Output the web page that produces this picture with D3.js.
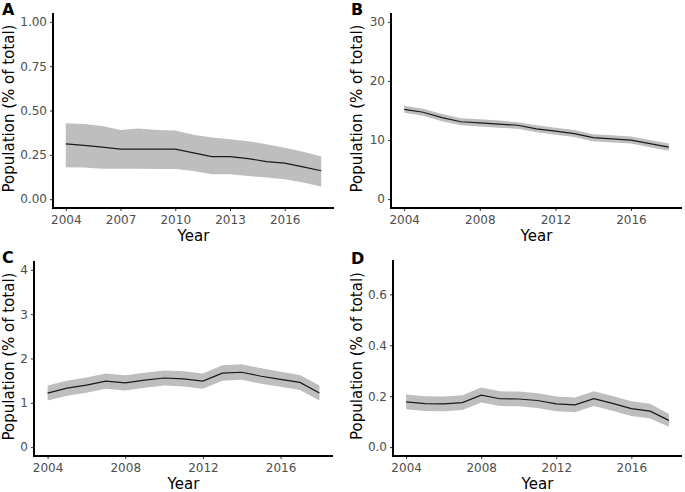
<!DOCTYPE html>
<html>
<head>
<meta charset="utf-8">
<script src="https://cdn.jsdelivr.net/npm/d3@7"></script>
<style>
  html, body { margin: 0; padding: 0; background: #fff; }
  svg { display: block; font-family: "DejaVu Sans", sans-serif; }
</style>
</head>
<body>
<svg id="chart" width="685" height="492"></svg>
<script>
const years = [2004,2005,2006,2007,2008,2009,2010,2011,2012,2013,2014,2015,2016,2017,2018];

const aMean = [0.312,0.303,0.293,0.282,0.282,0.282,0.282,0.261,0.240,0.240,0.229,0.212,0.203,0.182,0.160];
const aHigh = [0.428,0.424,0.413,0.390,0.398,0.390,0.387,0.363,0.348,0.338,0.327,0.310,0.290,0.268,0.240];
const aLow  = [0.180,0.178,0.172,0.172,0.172,0.170,0.170,0.159,0.140,0.140,0.130,0.122,0.112,0.094,0.071];

const bMean = [15.2,14.7,13.8,13.1,12.9,12.7,12.5,11.9,11.5,11.1,10.4,10.2,10.0,9.4,8.8];
const bHigh = [15.8,15.3,14.4,13.7,13.5,13.3,13.0,12.5,12.1,11.7,11.0,10.8,10.6,10.0,9.4];
const bLow  = [14.6,14.1,13.2,12.5,12.3,12.1,11.9,11.3,10.9,10.5,9.8,9.6,9.4,8.8,8.2];

const cMean = [1.22,1.33,1.40,1.49,1.45,1.51,1.56,1.54,1.49,1.67,1.69,1.60,1.53,1.46,1.22];
const cHigh = [1.39,1.50,1.57,1.66,1.62,1.68,1.73,1.71,1.66,1.85,1.87,1.78,1.70,1.63,1.39];
const cLow  = [1.05,1.16,1.23,1.32,1.28,1.34,1.39,1.37,1.32,1.50,1.52,1.43,1.36,1.29,1.05];

const dMean = [0.178,0.171,0.170,0.175,0.204,0.190,0.189,0.183,0.170,0.166,0.190,0.172,0.151,0.141,0.105];
const dHigh = [0.207,0.200,0.199,0.204,0.234,0.219,0.218,0.212,0.199,0.195,0.219,0.201,0.180,0.170,0.130];
const dLow  = [0.149,0.142,0.141,0.146,0.175,0.161,0.160,0.154,0.141,0.137,0.161,0.143,0.122,0.112,0.080];

const aXTicks = [2004,2007,2010,2013,2016];
const bXTicks = [2004,2008,2012,2016];
const aYTicks = [0,0.25,0.5,0.75,1];
const bYTicks = [0,10,20,30];
const cYTicks = [0,1,2,3,4];
const dYTicks = [0,0.2,0.4,0.6];

const panelLabels = ["A","B","C","D"];
const xTitle = "Year";
const yTitle = "Population (% of total)";

const svg = d3.select("#chart");

const panels = [
  {mean:aMean, hi:aHigh, lo:aLow, ymax:1, yTicks:aYTicks, fmt:d3.format(".2f"), xTicks:aXTicks,
   left:53, right:334, top:13, bottom:208, titleX:13.5, labX:2, labY:15},
  {mean:bMean, hi:bHigh, lo:bLow, ymax:30, yTicks:bYTicks, fmt:d3.format("d"), xTicks:bXTicks,
   left:391, right:682, top:13, bottom:208, titleX:362, labX:351, labY:15},
  {mean:cMean, hi:cHigh, lo:cLow, ymax:4, yTicks:cYTicks, fmt:d3.format("d"), xTicks:bXTicks,
   left:34, right:333, top:261, bottom:456, titleX:13.5, labX:2, labY:263},
  {mean:dMean, hi:dHigh, lo:dLow, ymax:0.7, yTicks:dYTicks, fmt:d3.format(".1f"), xTicks:bXTicks,
   left:393, right:682, top:260, bottom:456, titleX:362, labX:351, labY:264}
];

panels.forEach((p, i) => {
  const xPad = (years[years.length-1] - years[0]) * 0.05;
  const x = d3.scaleLinear()
    .domain([years[0] - xPad, years[years.length-1] + xPad])
    .range([p.left, p.right]);
  const y = d3.scaleLinear()
    .domain([-p.ymax * 0.05, p.ymax * 1.05])
    .range([p.bottom, p.top]);

  const g = svg.append("g");
  const rows = years.map((yr, k) => ({yr, m: p.mean[k], hi: p.hi[k], lo: p.lo[k]}));

  g.append("path")
    .datum(rows)
    .attr("fill", "#bebebe")
    .attr("d", d3.area().x(d => x(d.yr)).y0(d => y(d.lo)).y1(d => y(d.hi)));

  g.append("path")
    .datum(rows)
    .attr("fill", "none")
    .attr("stroke", "#1a1a1a")
    .attr("stroke-width", 1.2)
    .attr("d", d3.line().x(d => x(d.yr)).y(d => y(d.m)));

  // y axis
  const yAxis = g.append("g")
    .attr("transform", `translate(${p.left},0)`)
    .call(d3.axisLeft(y).tickValues(p.yTicks).tickFormat(p.fmt).tickSize(3).tickPadding(3));
  yAxis.select(".domain").remove();
  yAxis.selectAll(".tick line").attr("stroke", "#333").attr("stroke-width", 1);
  yAxis.selectAll(".tick text").attr("fill", "#4d4d4d").style("font-size", "12px")
    .style("font-family", "DejaVu Sans");

  // x axis
  const xAxis = g.append("g")
    .attr("transform", `translate(0,${p.bottom})`)
    .call(d3.axisBottom(x).tickValues(p.xTicks).tickFormat(d3.format("d")).tickSize(3).tickPadding(4));
  xAxis.select(".domain").remove();
  xAxis.selectAll(".tick line").attr("stroke", "#333").attr("stroke-width", 1);
  xAxis.selectAll(".tick text").attr("fill", "#4d4d4d").style("font-size", "12px")
    .style("font-family", "DejaVu Sans");

  // axis lines
  g.append("line").attr("x1", p.left).attr("x2", p.left).attr("y1", p.top).attr("y2", p.bottom + 1)
    .attr("stroke", "#000").attr("stroke-width", 2);
  g.append("line").attr("x1", p.left - 1).attr("x2", p.right).attr("y1", p.bottom).attr("y2", p.bottom)
    .attr("stroke", "#000").attr("stroke-width", 2);

  // titles
  g.append("text")
    .attr("x", (p.left + p.right) / 2)
    .attr("y", p.bottom + 33)
    .attr("text-anchor", "middle")
    .style("font-size", "15px")
    .attr("fill", "#000")
    .text(xTitle);

  g.append("text")
    .attr("transform", `translate(${p.titleX},${(p.top + p.bottom) / 2 - 2}) rotate(-90)`)
    .attr("text-anchor", "middle")
    .style("font-size", "15px")
    .attr("fill", "#000")
    .text(yTitle);

  g.append("text")
    .attr("x", p.labX)
    .attr("y", p.labY)
    .style("font-size", "16px")
    .style("font-weight", "bold")
    .attr("fill", "#000")
    .text(panelLabels[i]);
});
</script>
</body>
</html>
